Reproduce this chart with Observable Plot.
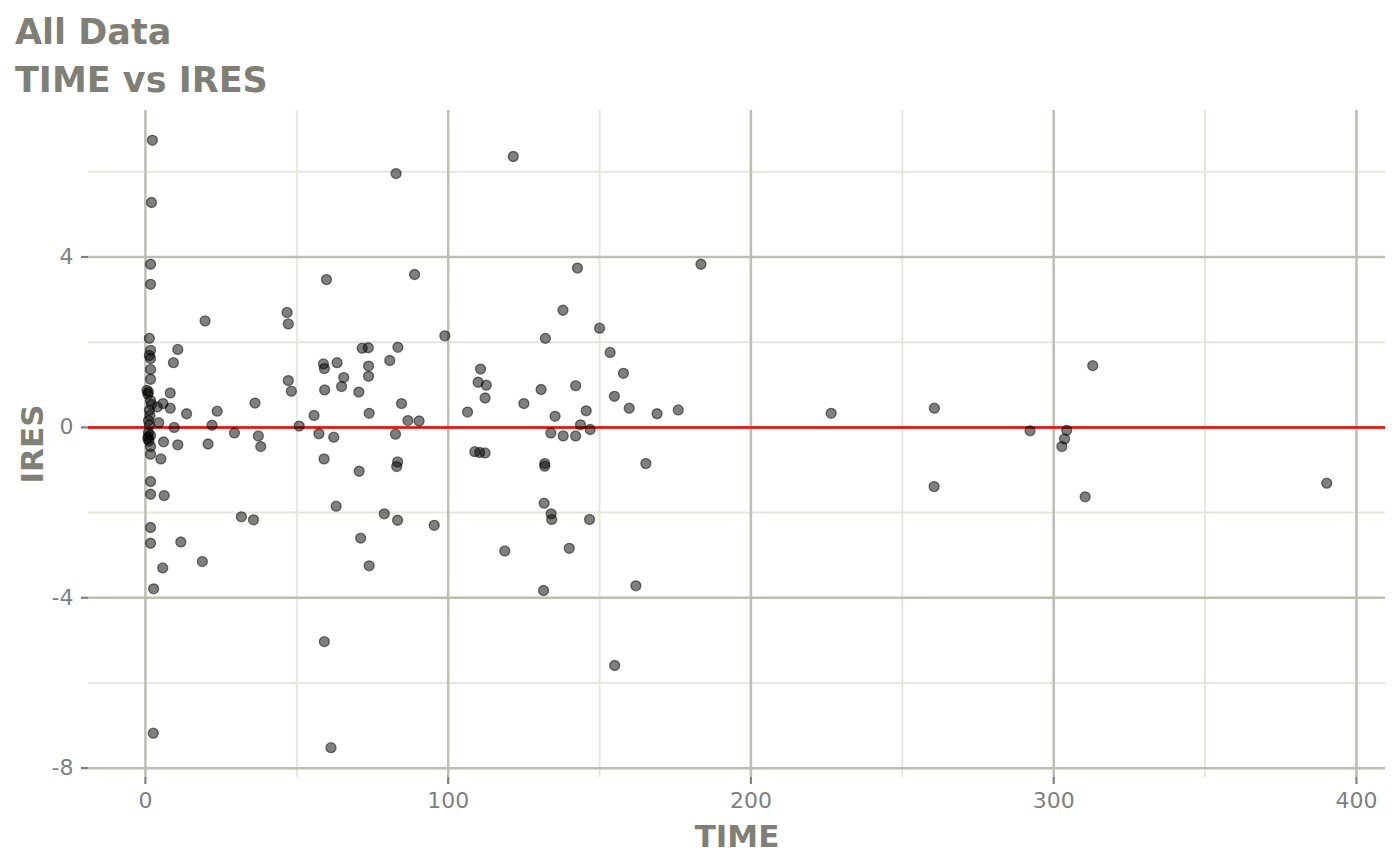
<!DOCTYPE html>
<html>
<head>
<meta charset="utf-8">
<script src="https://cdn.jsdelivr.net/npm/d3@7"></script>
<script src="https://cdn.jsdelivr.net/npm/@observablehq/plot@0.6"></script>
<style>
  body { margin: 0; background: #fff; font-family: "DejaVu Sans", sans-serif; }
  .ttl { color: #7f7f76; font-weight: bold; font-size: 35px; line-height: 48px; padding-left: 15px; }
  #titles { padding-top: 8px; }
  #chart svg [aria-label^="x-axis"] line, #chart svg [aria-label^="y-axis"] line,
  #chart svg [aria-label="x-axis tick"] path, #chart svg [aria-label="y-axis tick"] path { stroke-width: 2.2px; }
</style>
</head>
<body>
<div id="titles">
  <div class="ttl">All Data</div>
  <div class="ttl">TIME vs IRES</div>
</div>
<div id="chart"></div>
<script>
// TIME and IRES
const time = [
  2.3, 2.0, 1.7, 1.7, 1.3, 1.7, 1.3, 1.7, 1.7, 1.7,
  0.5, 1.0, 0.8, 1.7, 2.0, 1.3, 1.5, 1.0, 1.3, 1.0,
  1.7, 0.8, 1.2, 0.9, 1.7, 1.7, 1.7, 1.7, 1.7, 1.7,
  2.7, 2.6,
  3.9, 4.4, 5.1, 5.8, 6.0, 6.2, 5.7, 8.2, 8.2, 9.25,
  9.5, 10.7, 10.7, 11.7, 13.6, 18.8, 19.7, 20.7, 22.0, 23.7,
  29.4, 31.7, 35.7, 36.2, 37.3, 38.1,
  46.8, 47.2, 47.2, 48.2, 50.8, 55.7, 57.3, 58.8, 59.1, 59.2,
  59.0, 59.1, 59.8, 61.3, 62.2, 63.0, 63.3, 64.8, 65.5, 70.5,
  70.6, 71.1, 71.6, 73.6, 73.7, 73.7, 73.9, 73.9, 78.9, 80.7,
  82.6, 82.8, 83.0, 83.3, 83.3, 83.4, 84.6, 86.7, 88.9, 90.4,
  95.4, 98.9,
  106.4, 108.8, 110.4, 112.2, 109.9, 110.7, 112.6, 112.2, 118.7, 121.5,
  125.0, 130.7, 131.5, 131.7, 131.9, 131.9, 132.1, 133.9, 134.0, 134.2,
  135.3, 137.9, 138.0, 140.0, 142.1, 142.1, 142.7, 143.7, 145.6, 146.7,
  146.9, 150.0, 153.5, 154.9, 155.0, 157.9, 159.8, 162.0, 165.3, 169.0,
  176.0, 183.5,
  226.5, 260.6, 260.5, 292.2, 302.7, 303.6, 304.3, 310.4, 312.9, 390.2
]
const ires = [
  6.74, 5.28, 3.83, 3.36, 2.09, 1.81, 1.69, 1.62, 1.36, 1.13,
  0.87, 0.83, 0.78, 0.63, 0.54, 0.40, 0.28, 0.16, 0.05, -0.12,
  -0.19, -0.27, -0.32, -0.22, -0.45, -0.63, -1.27, -1.57, -2.35, -2.72,
  -3.79, -7.18,
  0.48, 0.11, -0.74, 0.56, -0.34, -1.60, -3.30, 0.81, 0.45, 1.52,
  0.00, 1.83, -0.41, -2.69, 0.32, -3.15, 2.50, -0.39, 0.05, 0.38,
  -0.13, -2.10, -2.17, 0.57, -0.20, -0.45,
  2.70, 2.43, 1.10, 0.85, 0.03, 0.28, -0.15, 1.49, 1.38, 0.88,
  -0.74, -5.03, 3.47, -7.52, -0.23, -1.85, 1.52, 0.96, 1.17, 0.83,
  -1.03, -2.60, 1.86, 1.87, 1.44, 1.20, 0.33, -3.25, -2.03, 1.57,
  -0.16, 5.96, -0.92, -0.81, -2.18, 1.88, 0.56, 0.16, 3.59, 0.15,
  -2.30, 2.15,
  0.36, -0.57, -0.59, -0.60, 1.06, 1.37, 0.99, 0.69, -2.90, 6.36,
  0.56, 0.89, -3.83, -1.78, -0.85, -0.91, 2.09, -0.13, -2.03, -2.16,
  0.26, 2.75, -0.20, -2.84, 0.98, -0.20, 3.74, 0.06, 0.39, -2.16,
  -0.05, 2.33, 1.76, 0.73, -5.59, 1.27, 0.45, -3.72, -0.85, 0.32,
  0.41, 3.83,
  0.33, 0.45, -1.39, -0.08, -0.45, -0.27, -0.07, -1.63, 1.45, -1.31
]

const xTicks = [0, 100, 200, 300, 400]
const xMinor = [50, 150, 250, 350]
const yTicks = [-8, -4, 0, 4]
const yMinor = [-6, -2, 2, 6]
const refLine = [0]

const data = time.map((t, i) => ({TIME: t, IRES: ires[i]}))

const majorCol = "#bdbdb0"
const minorCol = "#e6e6da"

const chart = Plot.plot({
  width: 1400,
  height: 761,
  marginTop: 6,
  marginBottom: 88,
  marginLeft: 88,
  marginRight: 15,
  style: {
    fontFamily: "DejaVu Sans",
    fontSize: "22px",
    color: "#7f7f7f",
    background: "#ffffff",
    overflow: "visible"
  },
  x: {
    domain: [-18.8, 409.6],
    ticks: xTicks,
    tickSize: 7,
    tickPadding: 8,
    tickFormat: d => String(d),
    label: null
  },
  y: {
    domain: [-8.22, 7.44],
    ticks: yTicks,
    tickSize: 7,
    tickPadding: 8,
    tickFormat: d => String(d),
    label: null
  },
  marks: [
    Plot.ruleX(xMinor, {stroke: minorCol, strokeWidth: 2}),
    Plot.ruleY(yMinor, {stroke: minorCol, strokeWidth: 2}),
    Plot.ruleX(xTicks, {stroke: majorCol, strokeWidth: 2.5}),
    Plot.ruleY(yTicks, {stroke: majorCol, strokeWidth: 2.5}),
    Plot.ruleY(refLine, {stroke: "#ff0000", strokeWidth: 2.5}),
    Plot.dot(data, {
      x: "TIME",
      y: "IRES",
      r: 5,
      fill: "black",
      fillOpacity: 0.5,
      stroke: "black",
      strokeOpacity: 0.5,
      strokeWidth: 1.3
    }),
    Plot.text(["TIME"], {
      text: d => d,
      frameAnchor: "bottom",
      textAnchor: "middle",
      dy: 69,
      fontSize: 31,
      fontWeight: "bold",
      fill: "#7f7f76"
    }),
    Plot.text(["IRES"], {
      text: d => d,
      frameAnchor: "left",
      textAnchor: "middle",
      dx: -55,
      rotate: -90,
      fontSize: 31,
      fontWeight: "bold",
      fill: "#7f7f76"
    })
  ]
})

d3.select('#chart').append(() => chart)
</script>
</body>
</html>
